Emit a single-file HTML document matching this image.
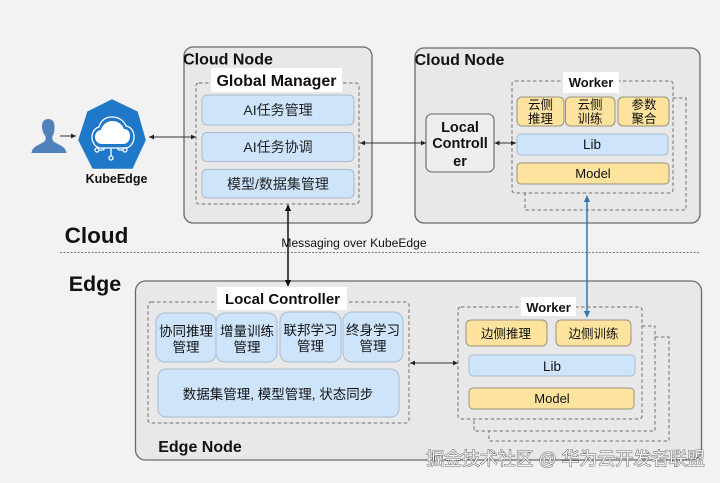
<!DOCTYPE html>
<html><head><meta charset="utf-8"><style>
html,body{margin:0;padding:0;background:#f2f2f2}
svg{display:block;filter:blur(.3px)}
text{font-family:"Liberation Sans","Noto Sans CJK SC",sans-serif;text-anchor:middle;fill:#111}
.b{font-weight:bold}
.nd{fill:#e8e8e8;stroke:#6a6a6a;stroke-width:1.3}
.d{fill:none;stroke:#707070;stroke-width:1;stroke-dasharray:3.5 2.5}
.bl{fill:#cde4fb;stroke:#a9bccd;stroke-width:1}
.ye{fill:#fde39d;stroke:#999280;stroke-width:1}
.w{fill:#fff}
.l{stroke:#333;stroke-width:1;fill:none}
.t{font-size:14px;fill:#222}
</style></head><body>
<svg width="720" height="483" viewBox="0 0 720 483" xmlns="http://www.w3.org/2000/svg">
<defs>
<marker id="a" markerWidth="6" markerHeight="6" refX="5" refY="3" orient="auto-start-reverse"><path d="M0 .6L5 3L0 5.4z" fill="#222"/></marker>
<marker id="k" markerWidth="5" markerHeight="5" refX="4" refY="2.5" orient="auto-start-reverse"><path d="M0 .4L4.4 2.5L0 4.6z" fill="#111"/></marker>
<marker id="u" markerWidth="5" markerHeight="5" refX="4" refY="2.5" orient="auto-start-reverse"><path d="M0 .4L4.4 2.5L0 4.6z" fill="#2f75b5"/></marker>
</defs>
<rect width="720" height="483" fill="#f2f2f2"/>

<!-- Nodes -->
<rect class="nd" x="184" y="47" width="188" height="176" rx="9"/>
<rect class="nd" x="415" y="48" width="285" height="175" rx="9"/>
<rect class="nd" x="135.500" y="281" width="566" height="179" rx="10"/>

<!-- separator -->
<line x1="60" y1="252.500" x2="700" y2="252.500" stroke="#777" stroke-width="1" stroke-dasharray="2 1.500"/>
<text class="b" x="96.500" y="243" font-size="22.500">Cloud</text>
<text class="b" x="95" y="291" font-size="21.500">Edge</text>

<!-- user -->
<path d="M48.500 119c4.500 0 6.500 2.500 6.500 8 0 4-.5 7-2 9-.5 3 0 5 2 6 4 3 11 4 12 11H32c1-7 8-8 12-11 2-1 2.500-3 2-6-2-2-3-5-3.500-9 0-5.500 2-8 6.500-8z" fill="#4f81bd" transform="translate(-.5 0)"/>
<line x1="60" y1="136" x2="76" y2="136" class="l" marker-end="url(#a)"/>

<!-- KubeEdge -->
<polygon points="112,100 137,112 145,140 132,168 93,168 79,140 88,112" fill="#1f78c8" stroke="#1f78c8" stroke-width="1.500" stroke-linejoin="round"/>
<path d="M102 144c-4 0-7-3-7-7 0-4 3-7 6-7 1-5 6-9 11-9 6 0 10 3 12 8 4 0 6 3 6 7 0 5-3 8-7 8z" fill="#fff"/>
<path d="M101 148c-5 0-9-5-9-11 0-5 3-9 7-10 2-7 7-10 13-10 7 0 12 4 14 9 5 1 8 5 8 11 0 6-4 11-9 11z" fill="none" stroke="#fff" stroke-width="1.300"/>
<path d="M111 148v8M104 148v1q0 1-2 1h-3M118 148v1q0 1 2 1h3" stroke="#fff" stroke-width="1.300" fill="none"/>
<circle cx="97" cy="150" r="2" fill="none" stroke="#fff" stroke-width="1.300"/>
<circle cx="125" cy="150" r="2" fill="none" stroke="#fff" stroke-width="1.300"/>
<circle cx="111" cy="158" r="2" fill="none" stroke="#fff" stroke-width="1.300"/>
<text class="b" x="116.500" y="183" font-size="12.500">KubeEdge</text>

<line x1="149" y1="137" x2="196" y2="137" class="l" marker-start="url(#a)" marker-end="url(#a)"/>

<!-- Cloud node 1 -->
<rect class="d" x="196" y="83" width="163" height="121" rx="3"/>
<rect class="w" x="211" y="68" width="131" height="24"/>
<text class="b" x="228" y="64.500" font-size="16">Cloud Node</text>
<text class="b" x="276.500" y="86" font-size="16">Global Manager</text>
<rect class="bl" x="202" y="95" width="152" height="30" rx="5"/>
<rect class="bl" x="202" y="132.500" width="152" height="29" rx="5"/>
<rect class="bl" x="202" y="169.500" width="152" height="28.500" rx="5"/>
<text class="t" x="278" y="115">AI任务管理</text>
<text class="t" x="278" y="152">AI任务协调</text>
<text class="t" x="278" y="189">模型/数据集管理</text>

<!-- Cloud node 2 -->
<text class="b" x="459.500" y="65" font-size="16">Cloud Node</text>
<path class="d" d="M673 98H686V210H525V193"/>
<rect class="d" x="512" y="81" width="161" height="112" rx="3"/>
<rect class="w" x="563" y="72" width="56" height="21"/>
<text class="b" x="591" y="87" font-size="13">Worker</text>
<rect class="ye" x="517" y="97" width="47" height="29" rx="5"/>
<rect class="ye" x="565.500" y="97" width="49.500" height="29" rx="5"/>
<rect class="ye" x="618" y="97" width="51" height="29" rx="5"/>
<g font-size="12.500">
<text x="540.500" y="109">云侧</text><text x="540.500" y="123">推理</text>
<text x="590" y="109">云侧</text><text x="590" y="123">训练</text>
<text x="644" y="109">参数</text><text x="644" y="123">聚合</text>
</g>
<rect class="bl" x="517" y="134" width="151" height="21" rx="4"/>
<rect class="ye" x="517" y="163" width="152" height="21" rx="4"/>
<text x="592" y="149" font-size="13.500" fill="#222">Lib</text>
<text x="593" y="178" font-size="13" fill="#222">Model</text>

<rect x="426" y="114" width="68" height="58" rx="6" fill="#eee" stroke="#666" stroke-width="1.100"/>
<g font-size="14.500">
<text class="b" x="460" y="132">Local</text>
<text class="b" x="460" y="148">Controll</text>
<text class="b" x="460" y="166">er</text>
</g>
<line x1="360" y1="143" x2="426" y2="143" class="l" marker-start="url(#a)" marker-end="url(#a)"/>
<line x1="494.500" y1="143" x2="516" y2="143" class="l" marker-start="url(#a)" marker-end="url(#a)"/>

<!-- Connectors -->
<line x1="288" y1="205" x2="288" y2="286" stroke="#111" stroke-width="1.500" marker-start="url(#k)" marker-end="url(#k)"/>
<text x="354" y="247" font-size="12.100" fill="#222">Messaging over KubeEdge</text>
<line x1="587" y1="196" x2="587" y2="317" stroke="#2f75b5" stroke-width="1.500" marker-start="url(#u)" marker-end="url(#u)"/>

<!-- Edge node left -->
<rect class="d" x="148" y="302" width="261" height="121" rx="3"/>
<rect class="w" x="217" y="287" width="130" height="23"/>
<text class="b" x="282.500" y="304" font-size="15">Local Controller</text>
<rect class="bl" x="156" y="313" width="60" height="49" rx="9"/>
<rect class="bl" x="216" y="313" width="61" height="49" rx="9"/>
<rect class="bl" x="280" y="312" width="61" height="50" rx="9"/>
<rect class="bl" x="343" y="312" width="60" height="50" rx="9"/>
<g font-size="13.500">
<text x="186" y="336">协同推理</text><text x="186" y="352">管理</text>
<text x="247" y="336">增量训练</text><text x="247" y="352">管理</text>
<text x="310.500" y="335">联邦学习</text><text x="310.500" y="351">管理</text>
<text x="373" y="335">终身学习</text><text x="373" y="351">管理</text>
</g>
<rect class="bl" x="158" y="369" width="241" height="48" rx="8"/>
<text x="278" y="399" font-size="13.500" fill="#222">数据集管理, 模型管理, 状态同步</text>
<text class="b" x="200" y="452" font-size="16">Edge Node</text>

<line x1="410" y1="363" x2="458" y2="363" class="l" marker-start="url(#a)" marker-end="url(#a)"/>

<!-- Edge worker -->
<path class="d" d="M655 337H669V441H489V431"/>
<path class="d" d="M642 326H655V431H474V419"/>
<rect class="d" x="458" y="307" width="184" height="112" rx="3"/>
<rect class="w" x="521" y="297" width="55" height="19"/>
<text class="b" x="548.500" y="312" font-size="13">Worker</text>
<rect class="ye" x="466" y="320" width="81" height="26" rx="5"/>
<rect class="ye" x="556" y="320" width="75" height="26" rx="5"/>
<text x="506" y="338" font-size="12.500">边侧推理</text>
<text x="593.500" y="338" font-size="12.500">边侧训练</text>
<rect class="bl" x="469" y="355" width="166" height="21" rx="4"/>
<rect class="ye" x="469" y="388" width="165" height="21" rx="4"/>
<text x="552" y="371" font-size="13.500" fill="#222">Lib</text>
<text x="552" y="403" font-size="13" fill="#222">Model</text>

<!-- Watermark -->
<text x="565.500" y="465" font-size="17.900" style="fill:#f4f4f4;stroke:#444;stroke-width:.8;paint-order:stroke">掘金技术社区 @ 华为云开发者联盟</text>
</svg>
</body></html>
